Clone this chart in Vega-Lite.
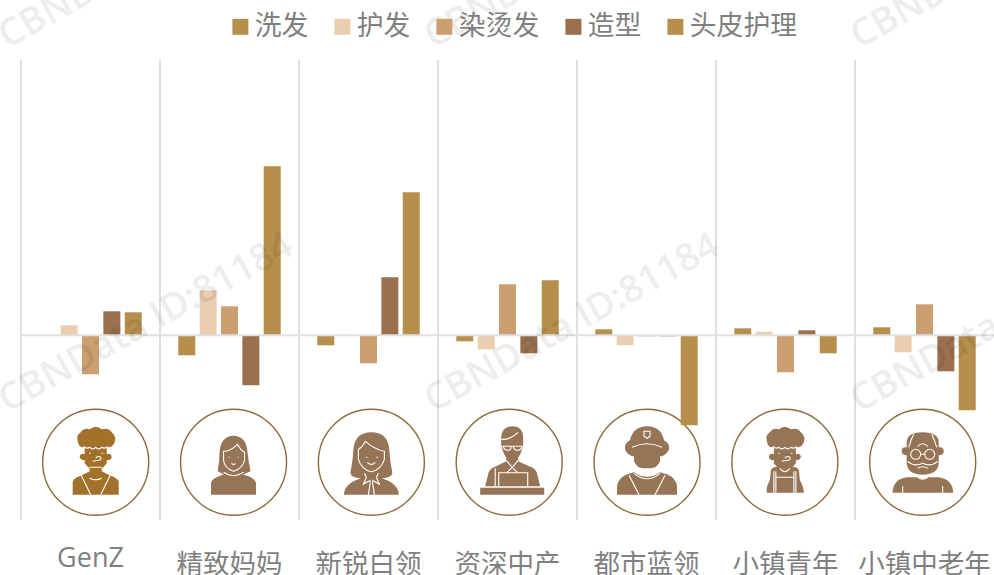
{
"$schema":"https://vega.github.io/schema/vega-lite/v6.json",
"width":973,"height":460,
"autosize":{"type":"none"},
"padding":{"left":21,"top":60,"right":0,"bottom":55},
"background":"white",
"config":{"view":{"stroke":null},"font":"Noto Sans CJK SC"},
"layer":[
{"data":{"name":"groups"},
 "mark":{"type":"rule","color":"#e0e0e0","strokeWidth":2},
 "encoding":{"x":{"field":"group","type":"nominal","bandPosition":0,"axis":null,
   "scale":{"type":"band","domain":["GenZ","精致妈妈","新锐白领","资深中产","都市蓝领","小镇青年","小镇中老年"],"paddingInner":0,"paddingOuter":0}}}},
{"data":{"name":"groups"},
 "mark":{"type":"point","filled":false,"size":11236,"shape":"circle","stroke":"#8d6b3a","strokeWidth":1.4,"opacity":1},
 "encoding":{
  "x":{"field":"group","type":"nominal","axis":null,"scale":{"type":"point","padding":0,"range":[74.7,901.7],"domain":["GenZ","精致妈妈","新锐白领","资深中产","都市蓝领","小镇青年","小镇中老年"]}},
  "y":{"field":"iconLevel","type":"quantitative","axis":null,"scale":{"domain":[-184.7,275.3],"nice":false,"zero":false}}}},
{"data":{"name":"groups"},
 "mark":{"type":"point","filled":true,"size":4,"opacity":1,"strokeWidth":0},
 "encoding":{
  "x":{"field":"group","type":"nominal","axis":null,"scale":{"type":"point","padding":0,"range":[74.7,901.7],"domain":["GenZ","精致妈妈","新锐白领","资深中产","都市蓝领","小镇青年","小镇中老年"]}},
  "y":{"field":"iconLevel","type":"quantitative","axis":null,"scale":{"domain":[-184.7,275.3],"nice":false,"zero":false}},
  "fill":{"condition":{"test":"datum.group==='GenZ'","value":"#a2722b"},"value":"#967556"},
  "shape":{"field":"group","type":"nominal","legend":null,"scale":{"domain":["GenZ","精致妈妈","新锐白领","资深中产","都市蓝领","小镇青年","小镇中老年"],"range":[
   "M-18,-21 Q-20,-27 -15,-30 Q-12,-35 -6,-33 Q0,-38 6,-33 Q13,-35 16,-30 Q21,-26 19,-20 Q17,-15 13,-15 L-13,-15 Q-17,-15 -18,-21Z M-11,-17 L11,-17 L11,-8 Q15,-10 16,-6 Q16,-2 11,-2 L11,1 Q8,5 6,6 L6,10 L-6,10 L-6,6 Q-8,5 -11,1 L-11,-2 Q-16,-2 -16,-6 Q-15,-10 -11,-8Z M-23,32.5 L-23,19 Q-22,16 -14,13 L-6,9 L6,9 L14,13 Q22,16 23,19 L23,32.5Z",
   "M0,-26.5 Q13,-26 14,-10 Q15,0 17,9 L10,12 L-10,12 L-16,9 Q-14,0 -14,-10 Q-13,-26 0,-26.5Z M-22.5,32.5 L-22.5,21 Q-22,16 -12,13 L-5,10 L5,10 L12,13 Q22,16 22.5,21 L22.5,32.5Z",
   "M0,-30 Q17,-30 18,-12 Q19,2 21,10 Q21,15 12,16 L-12,16 Q-21,15 -21,10 Q-19,2 -18,-12 Q-17,-30 0,-30Z M-27.5,32.5 Q-27,22 -13,17 L-5,14 L5,14 L13,17 Q27,22 27.5,32.5Z",
   "M3,-36 Q14,-36 14,-24 L14,-18 Q12,-8 9,-5 L9,-1 L20,4 Q27,6 28,12 L31,24 L-24,24 L-21,12 Q-20,6 -13,4 L-3,-1 L-3,-5 Q-6,-8 -8,-18 L-8,-24 Q-8,-36 3,-36Z M-29,25.5 L35,25.5 L35,32.5 L-29,32.5Z",
   "M0,-36 Q14,-36 17,-22 Q23,-19 22,-13 Q20,-8 15,-6 L-15,-6 Q-20,-8 -22,-13 Q-23,-19 -17,-22 Q-14,-36 0,-36Z M-13,-12 L13,-12 L13,-1 Q10,6 4,6 L-4,6 Q-10,6 -13,-1Z M-30,32.5 L-30,24 Q-29,16 -20,12 L-13,10 Q0,19 13,10 L20,12 Q29,16 30,24 L30,32.5Z",
   "M-18,-21 Q-20,-27 -15,-30 Q-12,-35 -6,-33 Q0,-38 6,-33 Q13,-35 16,-30 Q21,-26 19,-20 Q17,-15 13,-15 L-13,-15 Q-17,-15 -18,-21Z M-11,-17 L11,-17 L11,-8 Q15,-10 16,-6 Q16,-2 11,-2 L11,1 Q8,5 6,6 L6,10 L-6,10 L-6,6 Q-8,5 -11,1 L-11,-2 Q-16,-2 -16,-6 Q-15,-10 -11,-8Z M-18,30.5 Q-19,25 -15,18 L-14,8 Q-12,4 -7,5 L7,5 Q12,4 14,8 L15,18 Q19,25 19,30.5Z",
   "M-16,-20 Q-16,-30 0,-30 Q16,-30 16,-20 L16,-15 Q21,-16 21,-11 Q21,-7 16,-7 L16,0 Q16,12 0,12.5 Q-16,12 -16,0 L-16,-7 Q-21,-7 -21,-11 Q-21,-16 -16,-15Z M-30,30.5 Q-30,17 -16,15 L-5,15 Q0,18 5,15 L16,15 Q30,17 30.5,30.5Z"
  ]}}}},
{"data":{"name":"groups"},
 "mark":{"type":"point","filled":false,"size":4,"opacity":1,"stroke":"white","strokeWidth":1.1},
 "encoding":{
  "x":{"field":"group","type":"nominal","axis":null,"scale":{"type":"point","padding":0,"range":[74.7,901.7],"domain":["GenZ","精致妈妈","新锐白领","资深中产","都市蓝领","小镇青年","小镇中老年"]}},
  "y":{"field":"iconLevel","type":"quantitative","axis":null,"scale":{"domain":[-184.7,275.3],"nice":false,"zero":false}},
  "shape":{"field":"group","type":"nominal","legend":null,"scale":{"domain":["GenZ","精致妈妈","新锐白领","资深中产","都市蓝领","小镇青年","小镇中老年"],"range":[
   "M-12,-16 Q-9,-13 -6,-15 Q-3,-12 0,-15 Q3,-12 6,-15 Q9,-13 12,-16 M-15,12 L-5,32.5 M15,12 L5,32.5 M-6,16 Q0,19 6,16 M-6,5 L6,5 M-6.5,-9 L-5,-9 M6,-9 L7.5,-9 M0,-4 Q2,-7 5,-5 Q6,-2 3,-2 L-3,-1",
   "M-10,-11 Q-3,-11 4,-18 Q7,-12 11,-10 L11,-2 Q9,6 0,9 Q-9,6 -10,-2Z M-10,10 Q0,17 10,10 M-5,-5 L-4,-5 M4,-5 L5,-5 M-2,1 Q0,3 2,1",
   "M-13,-13 Q-9,-15 -6,-21 Q3,-13 13,-11 L13,-3 Q10,7 0,9.5 Q-10,7 -13,-3Z M-7,11 L-5,15 M7,11 L5,15 M-1,19 L-3,32.5 M1,19 L3,32.5 M-5,15 L-8,22 L-1,18 M5,15 L8,22 L1,18 M-5.5,-5 L-4,-5 M5,-5 L6.5,-5 M-4,0 Q0,4 4,0",
   "M-10.5,24 L-10.5,10.5 L18.5,10.5 L18.5,24 M-8,-23 Q0,-22 9,-30 M-7,-16 L13,-16 M-6,-16 Q-5,-12 -1,-12 Q2,-12 2,-16 M4,-16 Q5,-12 8,-12 Q12,-12 13,-16 M-3,-2 L3,5 L9,-2 M3,5 L-2,10 M3,5 L8,10 M-14,6 L-14,24",
   "M-15,-15 Q0,-22 15,-15 M-3,-31 L3,-31 L3,-26 L0,-24 L-3,-26Z M-18,13 L-8,32.5 M18,13 L8,32.5 M-13,11 Q0,22 13,11",
   "M-12,-16 Q-9,-13 -6,-15 Q-3,-12 0,-15 Q3,-12 6,-15 Q9,-13 12,-16 M-11,9 L-11,30.5 M-9,9 L-9,30.5 M11,9 L11,30.5 M9,9 L9,30.5 M-9,15 L9,15 M-5,6 Q0,13 5,6 M-6.5,-9 L-5,-9 M6,-9 L7.5,-9 M0,-4 Q2,-7 5,-5 Q6,-2 3,-2 L-3,-1",
   "M-2,-8 a5,5 0 1 0 -10,0 a5,5 0 1 0 10,0 M12,-8 a5,5 0 1 0 -10,0 a5,5 0 1 0 10,0 M-2,-8 L2,-8 M-5,-16 Q0,-21 5,-16 M-9,-28 Q-12,-22 -14,-15 M9,-28 Q12,-22 14,-15 M-15,-1 Q-8,5 0,1 Q8,5 15,-1 M-5,6 Q0,3 5,6 M-5,15 Q0,19 5,15 M-20,24 L-20,30.5 M20,24 L20,30.5"
  ]}}}},
{"data":{"name":"bars"},
 "mark":{"type":"bar"},
 "encoding":{
  "x":{"field":"group","type":"nominal","sort":null,
   "scale":{"type":"band","domain":["GenZ","精致妈妈","新锐白领","资深中产","都市蓝领","小镇青年","小镇中老年"],"paddingInner":0.263,"paddingOuter":0.1315},
   "axis":{"title":null,"labelAngle":0,"domain":false,"ticks":false,"grid":false,"labelFontSize":{"condition":{"test":"datum.value==='GenZ'","value":27},"value":26.5},"labelColor":"#7f7f7f","labelFont":{"condition":{"test":"datum.value==='GenZ'","value":"Open Sans"},"value":"Noto Sans CJK SC"},"labelPadding":52,
     "labelBaseline":{"condition":{"test":"datum.value==='GenZ'","value":"bottom"},"value":"alphabetic"},"orient":"bottom","labelOverlap":false,"labelBound":false,"labelFlush":false}},
  "xOffset":{"field":"item","type":"nominal","sort":null,"scale":{"domain":["洗发","护发","染烫发","造型","头皮护理"],"paddingInner":0.204,"paddingOuter":0}},
  "y":{"field":"value","type":"quantitative","axis":null,"scale":{"domain":[-184.7,275.3],"nice":false,"zero":false}},
  "color":{"field":"item","type":"nominal","sort":null,
   "scale":{"domain":["洗发","护发","染烫发","造型","头皮护理"],"range":["#b58f4b","#ebcdb0","#cb9f70","#9a704f","#b58f4b"]},
   "legend":{"title":null,"orient":"none","legendX":206,"legendY":-47,"direction":"horizontal","columns":5,"symbolType":"square","symbolSize":256,"symbolStrokeWidth":0,"labelFontSize":26.8,"labelColor":"#7f7f7f","labelFont":"Noto Sans CJK SC","labelOffset":1,"columnPadding":20,"padding":0,"labelLimit":200,"symbolOpacity":1}}}},
{"data":{"values":[{"zero":0}]},
 "mark":{"type":"rule","color":"#e0e0e0","strokeWidth":2},
 "encoding":{"y":{"field":"zero","type":"quantitative","axis":null,"scale":{"domain":[-184.7,275.3],"nice":false,"zero":false}}}},
{"data":{"name":"marks"},
 "mark":{"type":"text","text":"CBNData ID:81184","angle":331,"align":"left","baseline":"middle","font":"Open Sans","fontSize":37.5,"fontWeight":600,"color":"#000000","opacity":0.065},
 "encoding":{
  "x":{"field":"col","type":"nominal","axis":null,"scale":{"type":"point","padding":0,"range":[-19,833],"domain":["a","b","c"]}},
  "y":{"field":"level","type":"quantitative","axis":null,"scale":{"domain":[-184.7,275.3],"nice":false,"zero":false}}}}
],
"resolve":{"scale":{"x":"independent","shape":"independent"},"axis":{"x":"independent"}},
"datasets":{
 "groups":[
  {"group":"GenZ","iconLevel":-127},{"group":"精致妈妈","iconLevel":-127},{"group":"新锐白领","iconLevel":-127},{"group":"资深中产","iconLevel":-127},{"group":"都市蓝领","iconLevel":-127},{"group":"小镇青年","iconLevel":-127},{"group":"小镇中老年","iconLevel":-127}],
 "marks":[{"col":"a","level":-68},{"col":"b","level":-68},{"col":"c","level":-68},{"col":"a","level":296},{"col":"b","level":296},{"col":"c","level":296}],
 "bars":[
  {"group":"GenZ","item":"洗发","value":0},{"group":"GenZ","item":"护发","value":10},{"group":"GenZ","item":"染烫发","value":-39},{"group":"GenZ","item":"造型","value":24},{"group":"GenZ","item":"头皮护理","value":23},
  {"group":"精致妈妈","item":"洗发","value":-20},{"group":"精致妈妈","item":"护发","value":45},{"group":"精致妈妈","item":"染烫发","value":29},{"group":"精致妈妈","item":"造型","value":-50},{"group":"精致妈妈","item":"头皮护理","value":169},
  {"group":"新锐白领","item":"洗发","value":-10},{"group":"新锐白领","item":"护发","value":0.5},{"group":"新锐白领","item":"染烫发","value":-28},{"group":"新锐白领","item":"造型","value":58},{"group":"新锐白领","item":"头皮护理","value":143},
  {"group":"资深中产","item":"洗发","value":-6},{"group":"资深中产","item":"护发","value":-14},{"group":"资深中产","item":"染烫发","value":51},{"group":"资深中产","item":"造型","value":-18},{"group":"资深中产","item":"头皮护理","value":55},
  {"group":"都市蓝领","item":"洗发","value":6},{"group":"都市蓝领","item":"护发","value":-10},{"group":"都市蓝领","item":"染烫发","value":-1},{"group":"都市蓝领","item":"造型","value":-1},{"group":"都市蓝领","item":"头皮护理","value":-90},
  {"group":"小镇青年","item":"洗发","value":7},{"group":"小镇青年","item":"护发","value":3.5},{"group":"小镇青年","item":"染烫发","value":-37},{"group":"小镇青年","item":"造型","value":5},{"group":"小镇青年","item":"头皮护理","value":-18},
  {"group":"小镇中老年","item":"洗发","value":8},{"group":"小镇中老年","item":"护发","value":-17},{"group":"小镇中老年","item":"染烫发","value":31},{"group":"小镇中老年","item":"造型","value":-36},{"group":"小镇中老年","item":"头皮护理","value":-75}
 ]}
}
